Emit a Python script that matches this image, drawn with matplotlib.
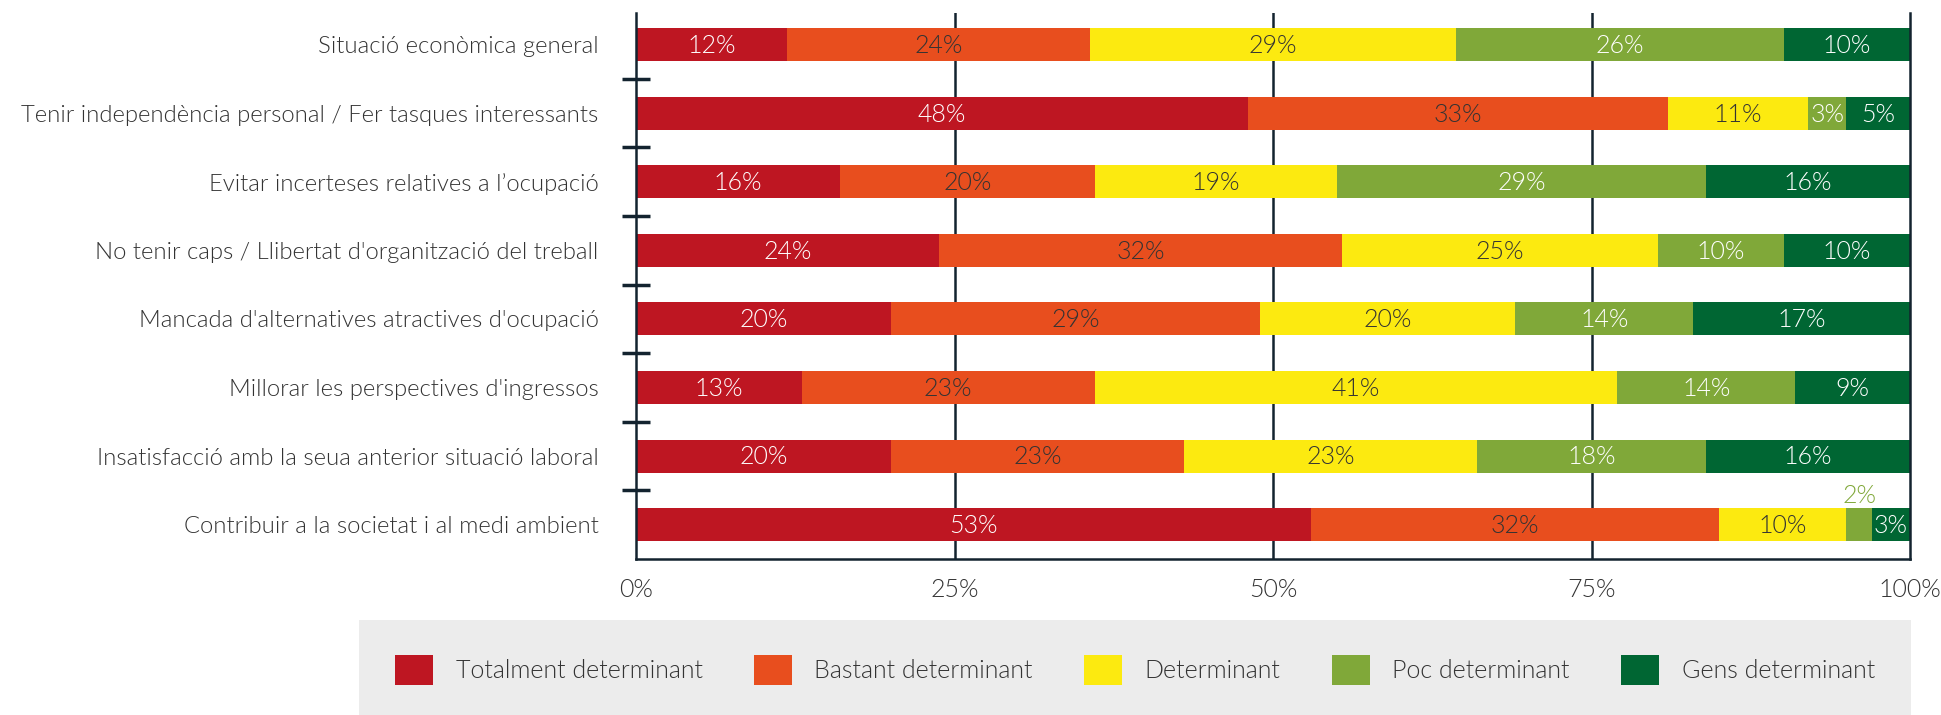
import numpy as np
import matplotlib
matplotlib.use("Agg")
import matplotlib.pyplot as plt
from matplotlib.patches import Patch, Rectangle


categories = [
    "Situació econòmica general",
    "Tenir independència personal / Fer tasques interessants",
    "Evitar incerteses relatives a l’ocupació",
    "No tenir caps / Llibertat d'organització del treball",
    "Mancada d'alternatives atractives d'ocupació",
    "Millorar les perspectives d'ingressos",
    "Insatisfacció amb la seua anterior situació laboral",
    "Contribuir a la societat i al medi ambient",
]
series_names = ["Totalment determinant", "Bastant determinant", "Determinant",
                "Poc determinant", "Gens determinant"]
totalment = [12, 48, 16, 24, 20, 13, 20, 53]
bastant = [24, 33, 20, 32, 29, 23, 23, 32]
determinant = [29, 11, 19, 25, 20, 41, 23, 10]
poc = [26, 3, 29, 10, 14, 14, 18, 2]
gens = [10, 5, 16, 10, 17, 9, 16, 3]
x_ticks = [0, 25, 50, 75, 100]

colors = ["#BE1622", "#E84E1E", "#FCEA10", "#80A839", "#006633"]
label_colors = ["white", "#333333", "#333333", "white", "white"]
line_col = "#13232F"
text_col = "#333333"

plt.rcParams["font.family"] = ["Lato", "DejaVu Sans"]
plt.rcParams["font.weight"] = 300
plt.rcParams["font.size"] = 18

W, H = 1941, 715
fig = plt.figure(figsize=(W / 100, H / 100), dpi=100)
ax = fig.add_axes([636 / W, 1 - 559 / H, (1910 - 636) / W, (559 - 13) / H])

values = np.array([totalment, bastant, determinant, poc, gens], dtype=float)
shares = values / values.sum(axis=0) * 100
y = np.arange(len(categories))

left = np.zeros(len(categories))
for k in range(len(series_names)):
    ax.barh(y, shares[k], left=left, height=0.48, color=colors[k],
            label=series_names[k], zorder=2)
    for i in range(len(categories)):
        cx = left[i] + shares[k][i] / 2
        v = values[k][i]
        if v < 3:
            # too thin for an inside label -> put it above the bar
            ax.text(cx, y[i] - 0.42, f"{v:.0f}%", ha="center", va="center",
                    color=colors[k], zorder=3)
        else:
            ax.text(cx, y[i] + 0.02, f"{v:.0f}%", ha="center", va="center",
                    color=label_colors[k], zorder=3)
    left += shares[k]

ax.set_xlim(0, 100)
ax.set_ylim(len(categories) - 0.5, -0.46)

# vertical grid behind bars
for t in x_ticks[1:-1]:
    ax.axvline(t, color=line_col, lw=1.8, zorder=1)

for side in ["left", "right", "bottom"]:
    ax.spines[side].set_color(line_col)
    ax.spines[side].set_linewidth(1.8)
    ax.spines[side].set_zorder(4)
ax.spines["top"].set_visible(False)

ax.set_yticks(y)
ax.set_yticklabels(categories, color=text_col, fontsize=17.2)
ax.set_yticks(y[:-1] + 0.5, minor=True)
ax.tick_params(axis="y", which="major", length=0, pad=27)
ax.tick_params(axis="y", which="minor", length=20, width=2.5, direction="inout",
               color=line_col)

ax.set_xticks(x_ticks)
ax.set_xticklabels([f"{t}%" for t in x_ticks], color=text_col)
ax.tick_params(axis="x", length=0, pad=14)

# legend box
fig.patches.append(Rectangle((359 / W, 0), (1911 - 359) / W, (715 - 620) / H,
                             transform=fig.transFigure, facecolor="#ECECEC",
                             edgecolor="none", zorder=0))
handles = [Patch(facecolor=c, edgecolor="none") for c in colors]
leg = fig.legend(handles, series_names, loc="center", ncol=5,
                 bbox_to_anchor=(1135 / W, 1 - 670 / H), frameon=False,
                 handlelength=1.52, handleheight=1.52, handletextpad=0.9,
                 columnspacing=2.05, borderpad=0)
for t in leg.get_texts():
    t.set_color(text_col)

fig.savefig("out.png", dpi=100)
